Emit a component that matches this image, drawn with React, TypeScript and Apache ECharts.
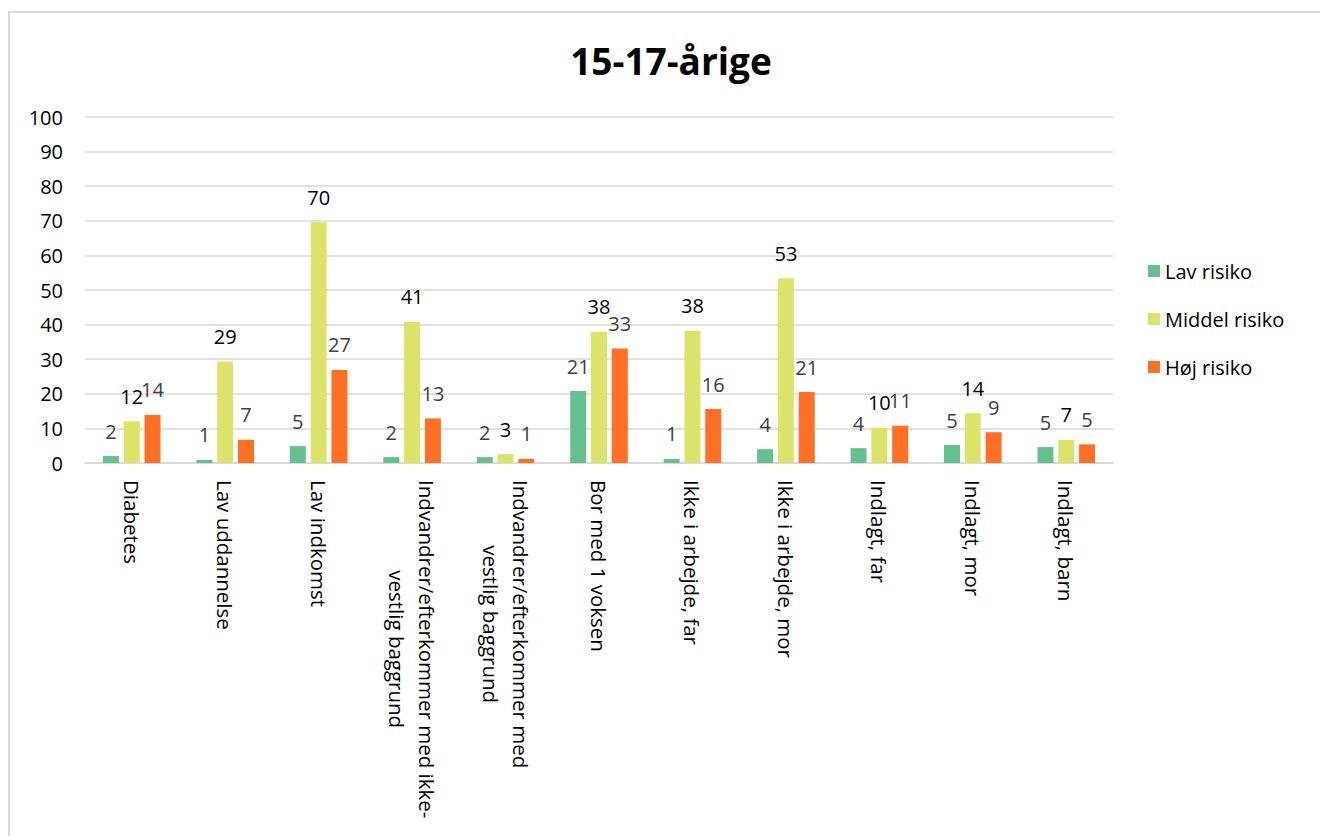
import React, { useEffect, useRef } from "react";
import * as echarts from "echarts";

const TITLE = "15-17-årige";
const categories = [
  "Diabetes",
  "Lav uddannelse",
  "Lav indkomst",
  "Indvandrer/efterkommer med ikke-\nvestlig baggrund",
  "Indvandrer/efterkommer med\nvestlig baggrund",
  "Bor med 1 voksen",
  "Ikke i arbejde, far",
  "Ikke i arbejde, mor",
  "Indlagt, far",
  "Indlagt, mor",
  "Indlagt, barn",
];
const seriesNames = ["Lav risiko", "Middel risiko", "Høj risiko"];
const lavRisiko = [2.0, 0.9, 4.9, 1.7, 1.7, 20.8, 1.2, 4.0, 4.3, 5.2, 4.6];
const middelRisiko = [12.1, 29.3, 69.6, 40.8, 2.6, 37.9, 38.2, 53.4, 10.2, 14.4, 6.7];
const hojRisiko = [13.9, 6.7, 26.9, 12.9, 1.2, 33.1, 15.6, 20.5, 10.8, 8.9, 5.4];
const yTicks = { min: 0, max: 100, interval: 10 };

const FONT = "'Open Sans', 'Noto Sans', sans-serif";
const colors = ["#64C18F", "#DCE36A", "#FF6F24"];
const labelColors = ["#404040", "#000000", "#404040"];

export default function App() {
  const ref = useRef<HTMLDivElement>(null);
  useEffect(() => {
    if (!ref.current) return;
    const chart = echarts.init(ref.current, undefined, { renderer: "svg" });
    const data = [lavRisiko, middelRisiko, hojRisiko];
    chart.setOption({
      animation: false,
      backgroundColor: "#ffffff",
      title: {
        text: TITLE,
        left: 666,
        top: 37,
        textAlign: "center",
        textStyle: { fontFamily: FONT, fontSize: 37, fontWeight: "bold", color: "#000" },
      },
      graphic: [
        {
          type: "rect",
          shape: { x: 9, y: 12, width: 1400, height: 900 },
          style: { fill: "none", stroke: "#d9d9d9", lineWidth: 2 },
          silent: true,
          z: -1,
        },
      ],
      legend: {
        orient: "vertical",
        left: 1148,
        top: 261,
        padding: 0,
        itemWidth: 12,
        itemHeight: 12,
        itemGap: 28,
        icon: "rect",
        textStyle: { fontFamily: FONT, fontSize: 20, color: "#000", lineHeight: 20 },
        data: seriesNames,
      },
      grid: { left: 85, right: 207, top: 117, bottom: 373, containLabel: false },
      xAxis: {
        type: "category",
        data: categories,
        axisLine: { lineStyle: { color: "#d9d9d9", width: 2 } },
        axisTick: { show: false },
        axisLabel: {
          interval: 0,
          rotate: -90,
          margin: 17,
          formatter: (v: string) =>
            v
              .split("\n")
              .map((l) => `{c|${l}}`)
              .join("\n"),
          rich: {
            c: { align: "center", fontFamily: FONT, fontSize: 20.5, color: "#000", lineHeight: 30 },
          },
        },
      },
      yAxis: {
        type: "value",
        min: yTicks.min,
        max: yTicks.max,
        interval: yTicks.interval,
        axisLine: { show: false },
        axisTick: { show: false },
        splitLine: { lineStyle: { color: "#d9d9d9", width: 1.5 } },
        axisLabel: { fontFamily: FONT, fontSize: 20, color: "#000", margin: 22 },
      },
      series: seriesNames.map((name, i) => ({
        name,
        type: "bar",
        data: data[i],
        barWidth: 16,
        barGap: "30%",
        itemStyle: { color: colors[i] },
        label: {
          show: true,
          position: "top",
          distance: 15,
          fontFamily: FONT,
          fontSize: 20,
          color: labelColors[i],
          formatter: (p: any) => String(Math.round(p.value)),
        },
      })),
    });
    return () => chart.dispose();
  }, []);
  return (
    <div
      ref={ref}
      style={{ position: "absolute", left: 0, top: 0, width: 1320, height: 836 }}
    />
  );
}
